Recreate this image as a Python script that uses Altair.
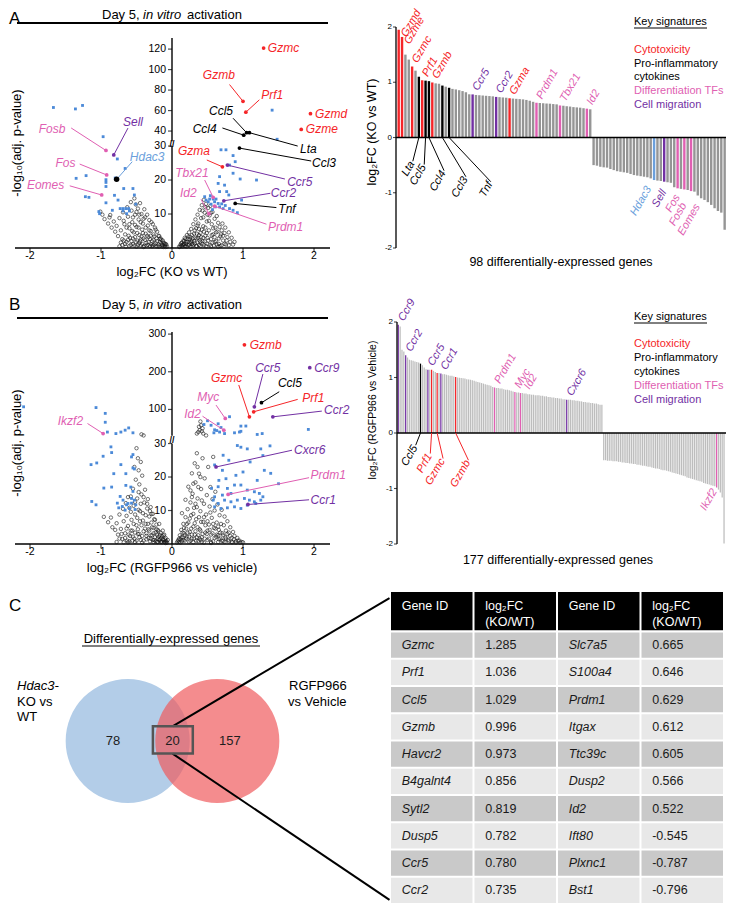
import altair as alt
import pandas as pd

FONT = "Liberation Sans"
W, H = 718, 896  # canvas; page pixel = canvas pixel + 8

# =============================== DATA =====================================
# ---- Panel A volcano: (log2FC KO vs WT, -log10 adj. p) ----
A_grey = [(-0.98,9.8),(-0.95,8.5),(-0.90,7.2),(-0.88,9.0),(-0.85,6.0),(-0.82,7.8),(-0.80,4.8),(-0.78,6.5),
 (-0.76,3.5),(-0.74,8.8),(-0.72,5.2),(-0.70,2.6),(-0.69,10.5),(-0.67,7.0),(-0.66,4.0),(-0.64,1.8),(-0.63,12.0),
 (-0.62,9.2),(-0.60,5.8),(-0.59,3.0),(-0.58,13.5),(-0.57,11.0),(-0.56,7.6),(-0.55,1.2),(-0.54,4.6),(-0.53,14.6),
 (-0.52,9.8),(-0.51,12.8),(-0.50,6.2),(-0.49,2.2),(-0.48,11.6),(-0.47,8.4),(-0.46,3.8),(-0.45,13.2),(-0.44,0.8),
 (-0.43,10.0),(-0.42,5.4),(-0.41,7.2),(-0.40,2.8),(-0.39,11.4),(-0.38,9.0),(-0.37,4.2),(-0.36,1.5),(-0.35,9.8),
 (-0.34,6.6),(-0.33,3.2),(-0.32,8.2),(-0.31,0.6),(-0.30,5.0),(-0.29,7.6),(-0.28,2.0),(-0.27,7.0),(-0.26,4.0),
 (-0.25,1.0),(-0.24,6.0),(-0.23,5.4),(-0.22,2.8),(-0.21,4.8),(-0.20,0.5),(-0.19,3.6),(-0.18,3.5),(-0.17,1.8),
 (-0.16,2.8),(-0.15,2.4),(-0.14,0.9),(-0.13,2.2),(-0.12,1.6),(-0.11,1.4),(-0.10,0.6),(-0.09,1.2),(-0.08,1.0),
 (-0.07,0.4),(-0.60,0.6),(-0.50,0.4),(-0.40,0.3),(-0.66,1.2),(-0.72,1.6),(-0.46,1.4),(-0.36,0.7),(-0.28,0.5),
 (-0.55,2.8),(-0.44,2.5),(-1.01,10.7),(-0.87,9.7),
 (-0.74,0.5),(-0.70,0.9),(-0.68,2.2),(-0.65,0.4),(-0.62,2.4),(-0.61,3.6),(-0.58,0.9),(-0.57,2.0),(-0.56,5.0),
 (-0.53,0.7),(-0.52,3.2),(-0.51,1.8),(-0.49,4.4),(-0.48,0.9),(-0.47,6.0),(-0.45,2.0),(-0.43,3.4),(-0.42,1.2),
 (-0.41,4.4),(-0.39,0.6),(-0.38,2.4),(-0.37,6.0),(-0.35,3.6),(-0.34,0.9),(-0.33,1.8),(-0.32,5.2),(-0.31,2.6),
 (-0.30,3.6),(-0.29,1.1),(-0.27,0.8),(-0.26,2.4),(-0.25,3.4),(-0.23,1.4),(-0.22,0.5),(-0.21,2.0),(-0.19,1.0),
 (-0.18,0.4),(-0.17,2.6),(-0.15,1.4),(-0.14,0.4),(-0.13,0.8),(-0.12,0.3),(-0.10,1.1),(-0.09,0.3),(-0.60,7.0),
 (-0.55,9.0),(-0.50,10.6),(-0.46,9.8),(-0.44,7.6),(-0.40,8.6),(-0.52,6.8),(-0.64,6.0),(-0.68,8.0),
 (0.10,0.4),(0.12,1.0),(0.13,0.6),(0.14,1.6),(0.15,0.9),(0.16,2.2),(0.17,1.2),(0.18,3.0),(0.19,0.5),(0.20,1.8),
 (0.21,3.8),(0.22,2.6),(0.23,0.8),(0.24,4.6),(0.25,1.6),(0.26,3.2),(0.27,5.6),(0.28,2.2),(0.29,0.6),(0.30,7.0),
 (0.31,4.2),(0.32,1.4),(0.33,8.4),(0.34,5.8),(0.35,2.8),(0.36,9.8),(0.37,7.2),(0.38,0.9),(0.39,11.2),(0.40,4.4),
 (0.41,8.8),(0.42,12.6),(0.43,2.0),(0.44,6.4),(0.45,14.2),(0.46,10.4),(0.47,3.6),(0.48,13.0),(0.49,7.8),
 (0.50,1.2),(0.51,11.8),(0.52,5.2),(0.53,9.6),(0.54,12.4),(0.55,2.6),(0.56,7.0),(0.57,10.6),(0.58,4.0),
 (0.59,0.7),(0.60,8.6),(0.61,6.0),(0.62,2.0),(0.63,9.4),(0.64,4.8),(0.65,7.4),(0.66,1.2),(0.67,6.2),(0.68,3.4),
 (0.70,5.2),(0.71,7.2),(0.72,2.2),(0.74,4.4),(0.75,6.0),(0.76,1.0),(0.78,3.2),(0.80,4.6),(0.82,1.8),(0.84,3.0),
 (0.86,1.0),(0.88,1.8),(0.35,0.5),(0.45,0.8),(0.55,0.5),(0.65,0.4),(0.40,1.8),(0.28,1.2),(0.50,3.0),(0.60,1.8),
 (0.70,0.8),(0.45,4.8),(0.38,3.8),
 (0.11,0.3),(0.13,1.4),(0.15,0.4),(0.16,1.0),(0.17,2.0),(0.18,0.6),(0.19,2.6),(0.20,1.2),(0.21,0.4),(0.22,1.8),
 (0.23,3.4),(0.24,1.0),(0.25,2.6),(0.26,0.4),(0.27,1.8),(0.28,3.8),(0.29,2.8),(0.30,1.0),(0.31,2.0),(0.32,5.2),
 (0.33,3.0),(0.34,0.6),(0.35,4.2),(0.36,1.6),(0.37,3.0),(0.38,5.6),(0.39,2.2),(0.40,0.6),(0.41,3.2),(0.42,5.4),
 (0.43,1.2),(0.44,3.0),(0.46,2.0),(0.47,6.0),(0.48,0.5),(0.49,4.4),(0.51,2.2),(0.52,8.0),(0.53,0.9),(0.56,3.8),
 (0.57,1.6),(0.58,5.8),(0.60,3.2),(0.62,4.6),(0.63,1.0),(0.66,2.8),(0.68,0.6),(0.69,4.0),(0.72,3.6),(0.74,1.2),
 (0.77,2.2),(0.80,0.8),(0.36,6.6),(0.44,9.0),(0.50,9.8),(0.55,10.4),(0.47,12.0),(0.43,11.0)]
A_sig = [(-1.67,63),(-1.36,61.6),(-1.26,65),(-0.97,34.5),(-0.77,26.2),(-0.66,23.4),(-1.35,20.5),(-1.21,21.3),
 (-0.93,19.3),(-0.81,15.5),(-1.22,15.1),(-1.17,14.9),(-0.93,13.3),(-1.03,10.7),(-1.02,10.1),(-0.84,11.1),
 (-0.73,11.6),(-0.69,11.6),(-0.65,11.6),(-0.61,11.6),(-0.55,17.5),(-0.53,15.6),(-0.51,12.9),(-0.69,10.9),
 (-0.64,10.1),(-0.60,10.9),(-0.68,17.5),(-0.76,14.1),(-0.80,20.6),(-0.93,20.1),(-0.93,18.1),
 (1.41,60.4),(1.48,32),(0.69,28.9),(0.76,28.9),(0.86,27.2),(0.89,25.4),(0.81,24.4),(1.19,20),(0.96,20.3),
 (0.67,21),(0.86,22),(0.65,19),(0.74,18.5),(0.77,16.6),(0.80,15.6),(0.67,16.6),(0.48,14.1),(0.51,13.6),
 (0.53,14.4),(0.58,14.4),(0.60,13.6),(0.62,14.4),(0.65,13.1),(0.55,12.9),(0.61,12.1),(0.67,12.1),(0.72,11.6),
 (0.81,11.6),(0.86,11.1),(0.92,10.4),(0.98,14.1),(0.46,15.1),(0.54,15.4),(0.70,13.0),(0.75,12.5),(0.57,11.3)]
# gene, signature, log2FC, p (of the gene)
A_genes = [("Gzmc","cyto",1.29,121.0),("Gzmb","cyto",1.00,69.0),("Prf1","cyto",1.04,58.4),
 ("Gzmd","cyto",1.95,57.0),("Gzme","cyto",1.82,41.6),("Ccl5","inflam",1.05,38.4),("Ccl4","inflam",1.01,36.0),
 ("Lta","inflam",1.09,38.4),("Ccl3","inflam",0.95,29.4),("Gzma","cyto",0.71,23.9),("Ccr5","migr",0.78,24.4),
 ("Tbx21","diff",0.58,14.9),("Ccr2","migr",0.73,13.9),("Id2","diff",0.52,10.1),("Tnf","inflam",0.89,13.1),
 ("Prdm1","diff",0.60,12.3),("Fosb","diff",-0.93,28.7),("Sell","migr",-0.82,27.4),("Hdac3","hdac",-0.78,20.2),
 ("Fos","diff",-0.92,21.5),("Eomes","diff",-0.99,15.6)]

# ---- Panel B volcano: (log2FC RGFP966 vs vehicle, -log10 adj. p) ----
B_grey = [(-0.96,8.1),(-0.90,6.5),(-0.86,7.9),(-0.84,5.0),(-0.80,4.2),(-0.78,6.2),(-0.76,2.8),(-0.74,8.8),
 (-0.72,4.5),(-0.70,1.5),(-0.69,10.5),(-0.68,6.8),(-0.66,3.2),(-0.65,12.2),(-0.64,8.4),(-0.63,1.0),(-0.62,5.4),
 (-0.60,10.8),(-0.59,2.4),(-0.58,14.2),(-0.57,7.2),(-0.56,4.0),(-0.55,16.5),(-0.54,11.4),(-0.53,1.6),(-0.52,8.8),
 (-0.51,19.2),(-0.50,28.6),(-0.50,5.6),(-0.49,13.6),(-0.48,3.0),(-0.47,22.0),(-0.47,10.2),(-0.46,17.8),
 (-0.45,6.8),(-0.44,24.5),(-0.44,1.2),(-0.43,14.8),(-0.42,20.4),(-0.41,9.2),(-0.40,3.8),(-0.39,12.4),
 (-0.38,16.2),(-0.37,6.0),(-0.36,1.4),(-0.35,10.6),(-0.34,13.4),(-0.33,4.4),(-0.32,8.2),(-0.31,0.8),(-0.30,11.0),
 (-0.29,6.4),(-0.28,2.6),(-0.27,9.0),(-0.26,4.8),(-0.25,1.2),(-0.24,7.2),(-0.23,3.4),(-0.22,5.8),(-0.21,0.6),
 (-0.20,4.2),(-0.19,2.2),(-0.18,6.0),(-0.17,1.4),(-0.16,3.4),(-0.15,0.7),(-0.14,2.4),(-0.13,4.0),(-0.12,1.2),
 (-0.11,2.8),(-0.10,0.5),(-0.09,1.8),(-0.08,0.9),(-0.07,0.4),(-0.06,1.2),(-0.62,0.5),(-0.52,0.6),(-0.42,0.4),
 (-0.36,2.4),(-0.46,2.0),(-0.56,1.0),(-0.30,1.6),(-0.26,0.6),(-0.20,1.6),(-0.48,25.6),(-0.53,23.0),(-0.43,34),
 (-0.40,31),
 (-0.78,0.6),(-0.74,1.6),(-0.71,3.0),(-0.68,0.5),(-0.66,1.8),(-0.64,4.6),(-0.61,2.8),(-0.60,0.8),(-0.58,4.0),
 (-0.55,2.2),(-0.54,6.0),(-0.52,3.4),(-0.50,1.0),(-0.49,7.8),(-0.48,4.4),(-0.46,3.0),(-0.45,9.8),(-0.43,5.6),
 (-0.42,2.4),(-0.41,7.0),(-0.40,1.0),(-0.38,4.6),(-0.37,8.6),(-0.36,3.2),(-0.34,6.0),(-0.33,1.8),(-0.32,4.0),
 (-0.30,2.6),(-0.29,9.0),(-0.28,5.0),(-0.27,1.2),(-0.26,3.2),(-0.25,7.4),(-0.24,2.0),(-0.23,0.8),(-0.22,4.4),
 (-0.21,2.8),(-0.20,0.6),(-0.19,3.8),(-0.18,1.2),(-0.17,2.6),(-0.16,0.6),(-0.15,1.8),(-0.14,0.5),(-0.13,1.4),
 (-0.12,2.6),(-0.11,0.6),(-0.10,1.4),(-0.09,0.3),(-0.08,0.6),(-0.44,12.0),(-0.40,14.0),(-0.47,15.5),
 (-0.52,12.6),(-0.58,9.6),(-0.35,12.0),(-0.31,9.8),(-0.62,14.0),
 (0.07,0.4),(0.09,1.2),(0.10,0.6),(0.11,2.6),(0.12,1.4),(0.13,4.2),(0.14,9.2),(0.14,0.8),(0.15,2.0),(0.16,6.0),
 (0.17,3.2),(0.18,1.0),(0.19,13.2),(0.19,8.0),(0.20,4.6),(0.21,2.2),(0.22,10.4),(0.23,17.1),(0.23,6.4),
 (0.24,0.7),(0.25,3.6),(0.26,12.4),(0.27,8.6),(0.28,21.1),(0.28,1.6),(0.29,15.0),(0.30,5.2),(0.31,10.8),
 (0.32,24.1),(0.32,2.8),(0.33,18.4),(0.34,7.4),(0.35,27.1),(0.35,36),(0.36,13.6),(0.37,0.9),(0.38,54),
 (0.38,21.0),(0.39,4.4),(0.40,68),(0.40,9.8),(0.41,16.4),(0.42,42),(0.42,2.0),(0.43,25.6),(0.44,36),(0.44,6.6),
 (0.45,12.0),(0.46,19.6),(0.47,3.4),(0.48,8.8),(0.49,14.6),(0.50,1.2),(0.51,23.0),(0.52,5.8),(0.53,11.2),
 (0.54,17.0),(0.55,2.8),(0.56,7.8),(0.57,13.4),(0.58,0.8),(0.59,4.8),(0.60,10.0),(0.61,15.6),(0.62,2.2),
 (0.63,6.4),(0.64,11.8),(0.65,0.6),(0.66,4.2),(0.67,8.6),(0.68,1.6),(0.69,6.0),(0.70,10.2),(0.71,3.2),
 (0.72,0.9),(0.73,5.6),(0.74,8.2),(0.75,2.0),(0.76,4.0),(0.78,6.8),(0.79,1.2),(0.80,3.4),(0.82,5.0),(0.84,1.8),
 (0.86,3.6),(0.88,2.4),(0.90,0.8),(0.92,1.8),(0.95,1.0),(0.98,0.6),(0.30,0.5),(0.45,0.4),(0.55,0.3),(0.35,2.0),
 (0.65,2.6),(0.85,0.5),(0.40,1.2),(0.50,4.0),(0.58,26.0),(0.48,31.0),(0.39,45),(0.41,58),(0.37,40),(0.43,50),
 (0.08,0.8),(0.10,1.6),(0.12,0.4),(0.13,2.0),(0.15,3.4),(0.16,1.2),(0.17,4.8),(0.18,2.6),(0.20,1.6),(0.21,6.0),
 (0.22,3.4),(0.24,2.2),(0.25,7.6),(0.26,1.0),(0.27,4.6),(0.28,2.8),(0.30,9.0),(0.31,1.6),(0.32,6.2),(0.33,3.8),
 (0.34,1.0),(0.35,11.0),(0.36,5.0),(0.37,2.6),(0.38,8.0),(0.39,1.6),(0.40,4.0),(0.41,6.6),(0.42,0.6),(0.43,3.0),
 (0.45,8.0),(0.46,1.6),(0.47,5.6),(0.49,3.0),(0.50,6.8),(0.52,1.6),(0.53,4.2),(0.54,9.4),(0.55,0.6),(0.57,3.2),
 (0.58,6.0),(0.60,1.8),(0.61,4.6),(0.63,2.8),(0.65,5.2),(0.66,1.4),(0.68,3.4),(0.70,1.0),(0.72,2.6),(0.74,0.6),
 (0.76,1.6),(0.78,3.0),(0.80,0.8),(0.82,2.4),(0.84,0.6),(0.87,1.4),(0.90,0.4),(0.93,1.0),(0.96,0.4),(1.00,0.5),
 (0.28,14.0),(0.33,12.0),(0.37,17.0),(0.42,13.0),(0.40,20.0),(0.30,18.0),(0.36,23.0),(0.26,16.0)]
B_sig = [(-2.09,107),(-1.07,105),(-0.94,89.6),(-0.94,66),(-0.91,40),(-0.72,40),(-0.61,51),(-0.55,38),
 (-0.79,36),(-0.66,45),
 (0.50,70),(0.55,58),(0.65,62),(0.69,52),(0.59,38),(0.67,40),(0.63,44),(0.81,80.7),(0.88,38),(0.95,40),
 (0.97,42),(0.97,55.8),(1.04,56),(1.20,33.6),(1.27,36),(1.92,47),(0.74,36),(0.45,60),(0.60,46),
 (-0.86,29),(-0.85,27.3),(-0.97,26.2),(-1.14,23.7),(-1.06,24.2),(-0.55,26.7),(-0.57,26.0),(-0.72,23.7),
 (-0.55,22.7),(-0.53,22.4),(-0.65,21),(-0.82,21),(-0.96,16.7),(-0.85,17.0),(-0.65,17.5),(-0.58,17.0),
 (-0.55,15.7),(-0.73,14.2),(-0.69,13.1),(-0.62,12.1),(-0.57,13.6),(-0.53,13.1),(-0.77,12.2),(-0.70,11.2),
 (-0.64,11.7),(-0.57,12.2),(-0.51,11.7),(-1.13,12.7),(-1.07,11.7),(-0.60,10.6),(-0.66,10.1),(-0.52,10.3),
 (-0.75,10.8),
 (0.60,23.6),(0.71,22.0),(0.92,29.4),(0.97,28.9),(1.06,28.4),(1.25,28.4),(1.28,26.4),(1.38,29.3),(1.39,21.1),
 (0.557,16.6),(0.60,14.1),(0.65,17.1),(0.78,16.6),(0.88,17.6),(0.97,17.6),(1.06,16.1),(1.16,15.6),(1.23,15.1),
 (1.28,14.1),(0.65,12.1),(0.74,13.1),(0.83,12.6),(0.92,13.1),(1.02,13.6),(1.09,13.1),(1.16,12.6),(0.60,11.1),
 (0.69,10.6),(0.78,10.8),(0.88,11.1),(0.97,10.6),(1.06,11.6),(1.18,12.1),(1.25,13.1),(0.83,15.1),(0.71,14.6),
 (0.58,13.1),(0.72,26.5),(0.80,25.0),(1.10,24.5),(1.30,22.0),(0.90,20.5),(1.00,21.5),(0.76,19.5),(0.66,19.0),
 (1.50,18.0),(1.20,19.0)]
B_genes = [("Gzmb","cyto",1.02,271.6),("Ccr9","migr",1.94,211.0),("Ccr5","migr",1.16,107.0),
 ("Gzmc","cyto",1.09,80.4),("Ccl5","inflam",1.26,117.8),("Prf1","cyto",1.15,93.8),("Ccr2","migr",1.42,80.4),
 ("Myc","diff",0.75,76.0),("Id2","diff",0.73,44.9),("Ikzf2","diff",-0.97,36.0),("Cxcr6","migr",0.62,23.0),
 ("Prdm1","diff",0.79,14.8),("Ccr1","migr",1.07,11.8)]

VOLC_X_TICKS = [-2, -1, 0, 1, 2]
A_Y_TICKS = [10, 20, 30, 40, 60, 80, 100, 120]
B_Y_TICKS = [10, 20, 30, 100, 200, 300]
BAR_Y_TICKS = [-2, -1, 0, 1, 2]

# ---- Panel A bars: 98 DE genes, log2FC (KO vs WT), sorted ----
A_pos = [1.95,1.82,1.50,1.41,1.285,1.21,1.10,1.036,1.029,1.02,0.996,0.98,0.973,0.94,0.92,0.90,0.88,0.87,
 0.856,0.84,0.819,0.782,0.780,0.77,0.765,0.76,0.755,0.75,0.745,0.735,0.73,0.725,0.72,0.71,0.705,0.70,0.695,
 0.69,0.68,0.665,0.646,0.629,0.625,0.62,0.615,0.612,0.605,0.60,0.58,0.575,0.566,0.56,0.55,0.545,0.54,0.53,
 0.522,0.51]
A_neg = [-0.50,-0.51,-0.53,-0.54,-0.545,-0.57,-0.59,-0.61,-0.62,-0.63,-0.64,-0.66,-0.68,-0.69,-0.70,-0.71,
 -0.72,-0.74,-0.77,-0.78,-0.787,-0.80,-0.81,-0.82,-0.90,-0.92,-0.93,-0.94,-0.95,-0.97,-0.98,-1.05,-1.10,
 -1.13,-1.17,-1.22,-1.28,-1.33,-1.36,-1.67]
A_marked = {1:("Gzmd","cyto"),2:("Gzme","cyto"),5:("Gzmc","cyto"),7:("Lta","inflam"),8:("Prf1","cyto"),
 9:("Ccl5","inflam"),10:("Ccl4","inflam"),11:("Gzmb","cyto"),14:("Ccl3","inflam"),16:("Tnf","inflam"),
 23:("Ccr5","migr"),30:("Ccr2","migr"),34:("Gzma","cyto"),42:("Prdm1","diff"),49:("Tbx21","diff"),
 57:("Id2","diff"),77:("Hdac3","hdac"),80:("Sell","migr"),84:("Fos","diff"),86:("Fosb","diff"),
 88:("Eomes","diff")}

# ---- Panel B bars: 177 DE genes, log2FC (RGFP966 vs vehicle), sorted ----
B_pos = [1.95,1.92,1.50,1.47,1.40,1.36,1.32,1.31,1.30,1.29,1.28,1.27,1.25,1.22,1.18,1.15,1.14,1.14,1.14,1.12,
 1.10,1.08,1.08,1.07,1.06,1.06,1.05,1.04,1.03,1.03,1.02,1.01,
 1.00,0.995,0.99,0.985,0.98,0.97,0.965,0.96,0.95,0.94,0.93,0.92,0.91,0.90,0.89,0.88,0.87,0.86,0.85,0.83,
 0.82,0.81,0.81,0.80,0.80,0.79,0.78,0.78,0.77,0.76,0.75,0.74,0.73,0.73,0.72,
 0.72,0.71,0.71,0.70,0.70,0.69,0.69,0.68,0.68,0.68,0.67,0.67,0.66,0.66,0.65,0.65,0.64,0.64,0.63,0.63,0.62,
 0.62,0.61,0.61,0.60,
 0.60,0.60,0.59,0.59,0.58,0.58,0.57,0.57,0.56,0.56,0.55,0.55,0.54,0.54,0.53,0.53,0.52,0.51,0.51]
B_neg = [-0.49,-0.49,-0.50,-0.50,-0.50,-0.51,-0.51,-0.51,-0.52,-0.52,
 -0.53,-0.53,-0.54,-0.54,-0.55,-0.55,-0.56,-0.56,-0.57,
 -0.57,-0.58,-0.59,-0.59,-0.60,-0.61,-0.61,-0.62,-0.63,
 -0.64,-0.64,-0.65,-0.66,-0.67,-0.67,-0.68,-0.69,-0.70,
 -0.71,-0.72,-0.73,-0.74,-0.75,-0.76,-0.77,-0.78,-0.80,
 -0.81,-0.82,-0.83,-0.84,-0.85,-0.86,-0.87,-0.88,-0.90,
 -0.91,-0.92,-0.93,-0.94,-0.95,-0.96,-0.98,-1.02,-1.07,-1.16,-1.99]
B_marked = {1:("Ccr9","migr"),5:("Ccr2","migr"),13:("Ccl5","inflam"),17:("Ccr5","migr"),19:("Prf1","cyto"),
 22:("Gzmc","cyto"),24:("Ccr1","migr"),32:("Gzmb","cyto"),53:("Prdm1","diff"),64:("Myc","diff"),
 67:("Id2","diff"),92:("Cxcr6","migr"),173:("Ikzf2","diff")}

# ---- Panel C ----
VENN_COUNTS = ["78", "20", "157"]
T_HEAD = ["Gene ID", "log\u2082FC\n(KO/WT)", "Gene ID", "log\u2082FC\n(KO/WT)"]
T_GENE_L = ["Gzmc","Prf1","Ccl5","Gzmb","Havcr2","B4galnt4","Sytl2","Dusp5","Ccr5","Ccr2"]
T_FC_L = ["1.285","1.036","1.029","0.996","0.973","0.856","0.819","0.782","0.780","0.735"]
T_GENE_R = ["Slc7a5","S100a4","Prdm1","Itgax","Ttc39c","Dusp2","Id2","Ift80","Plxnc1","Bst1"]
T_FC_R = ["0.665","0.646","0.629","0.612","0.605","0.566","0.522","-0.545","-0.787","-0.796"]

# ======================= ANNOTATION LAYOUT (label anchors) ================
A_LAB = {"Gzmc":(None,None,1.57,121),"Gzmb":(0.81,85.4,0.66,95),"Prf1":(1.23,70.5,1.41,75.5),
 "Gzmd":(None,None,2.24,57),"Gzme":(None,None,2.11,41.6),"Ccl5":(0.86,52.5,0.69,59.8),
 "Ccl4":(0.71,43.0,0.46,41.9),"Lta":(1.77,30.0,1.92,29.0),"Ccl3":(1.96,25.6,2.14,24.9),
 "Gzma":(0.49,25.9,0.31,28.4),"Ccr5":(1.59,20.3,1.80,19.5),"Tbx21":(0.46,20.0,0.28,22.0),
 "Ccr2":(1.385,16.1,1.57,16.3),"Id2":(0.41,14.3,0.23,16.1),"Tnf":(1.47,11.9,1.62,11.6),
 "Prdm1":(1.33,7.0,1.60,6.2),"Fosb":(-1.42,43.0,-1.69,41.9),"Sell":(-0.62,42.9,-0.55,49.2),
 "Hdac3":(-0.56,25.4,-0.35,26.7),"Fos":(-1.30,24.7,-1.50,24.9),"Eomes":(-1.44,18.3,-1.78,18.5)}
B_LAB = {"Gzmb":(None,None,1.32,271.6),"Ccr9":(None,None,2.18,211),"Ccr5":(1.28,194,1.35,211),
 "Gzmc":(0.94,165,0.77,184),"Ccl5":(1.51,147,1.66,169),"Prf1":(1.77,126.7,1.99,131),
 "Ccr2":(2.11,95.6,2.32,98),"Myc":(0.62,111.6,0.51,133.8),"Id2":(0.43,82,0.29,87.6),
 "Ikzf2":(-1.19,62.7,-1.43,68.9),"Cxcr6":(1.69,28,1.94,28),"Prdm1":(1.93,19.8,2.20,20.5),
 "Ccr1":(1.93,13.2,2.13,13.2)}
A_LEADER = {"Lta":(5.2,-0.43),"Ccl5":(8.6,-0.49),"Ccl4":(14.5,-0.60),"Ccl3":(21.0,-0.71),"Tnf":(28.4,-0.80)}
A_BELOW = {"Hdac3":(75.5,-0.90),"Sell":(80.0,-0.96),"Fos":(84.0,-1.05),"Fosb":(86.0,-1.20),"Eomes":(90.0,-1.22)}
B_LEADER = {"Ccl5":(10.4,-0.22),"Prf1":(18.3,-0.37),"Gzmc":(25.2,-0.46),"Gzmb":(38.9,-0.49)}
B_BELOW = {"Ikzf2":(172.0,-1.02)}
B_ABOVE_SHIFT = {"Id2": 2.0}

# ================================ STYLE ===================================
PAL = {"cyto": "#f52528", "inflam": "#000000", "diff": "#e05fb2", "migr": "#7230a3",
       "hdac": "#6b9fdc", "barA": "#959595", "barB": "#bdbdbd",
       "head": "#000000", "dark": "#c9c9c9", "light": "#e8e8e8"}
CS = alt.Scale(domain=list(PAL), range=list(PAL.values()))
COL = alt.Color("cat:N", scale=CS, legend=None)
SIG = "#4c8ad8"


def P(v):
    return v - 8


def note(text, x, y, size=12, color="#000000", align="left", baseline="middle", angle=0,
         italic=False):
    return alt.Chart(pd.DataFrame({"t": [text]})).mark_text(
        align=align, baseline=baseline, angle=angle, fontSize=size, font=FONT,
        fontStyle="italic" if italic else "normal", color=color
    ).encode(x=alt.value(P(x)), y=alt.value(P(y)), text="t:N")


def hrule(x1, x2, y, w=1.0):
    return alt.Chart(pd.DataFrame({"t": [0]})).mark_rule(color="#000000", strokeWidth=w).encode(
        x=alt.value(P(x1)), x2=alt.value(P(x2)), y=alt.value(P(y)))


def volcano(grey, sig, genes, lab, base, k, ydom, ypix, yticks):
    def d(f):
        return f"datum.{f} <= 30 ? datum.{f} : {base} + (datum.{f} - 30) * {k}"
    xs = alt.Scale(domain=[-2.211, 2.225], range=[P(15), P(330)], nice=False, zero=False)
    ys = alt.Scale(domain=ydom, range=[P(ypix[0]), P(ypix[1])], nice=False, zero=False)

    def X(f):
        return alt.X(f, type="quantitative", scale=xs, axis=None)

    def Y(f):
        return alt.Y(f, type="quantitative", scale=ys, axis=None)

    xline = alt.Chart(pd.DataFrame({"a": [-2.211], "b": [2.225], "z": [0.0]})).mark_rule(
        color="#000000", strokeWidth=1.4).encode(x=X("a"), x2="b:Q", y=Y("z"))
    xt = pd.DataFrame({"v": VOLC_X_TICKS, "lab": [str(t) for t in VOLC_X_TICKS], "z": 0.0})
    xtick = alt.Chart(xt).mark_tick(orient="vertical", size=4, thickness=1.2, yOffset=2,
                                    color="#000000").encode(x=X("v"), y=Y("z"))
    xlab = alt.Chart(xt).mark_text(baseline="top", dy=3, font=FONT, fontSize=10.5, color="#000000").encode(
        x=X("v"), y=Y("z"), text="lab:N")
    yline = alt.Chart(pd.DataFrame({"z": [0.0, 0.0], "a": [0.0, base], "b": [30.0, ydom[1]]})).mark_rule(
        color="#000000", strokeWidth=1.4).encode(x=X("z"), y=Y("a"), y2="b:Q")
    yt = alt.Chart(pd.DataFrame({"p": yticks, "lab": [str(t) for t in yticks], "z": 0.0})).transform_calculate(
        d=d("p"))
    ytick = yt.mark_tick(orient="horizontal", size=4, thickness=1.2, xOffset=-2, color="#000000").encode(
        x=X("z"), y=Y("d"))
    ylab = yt.mark_text(align="right", baseline="middle", dx=-6, font=FONT, fontSize=10.5,
                        color="#000000").encode(x=X("z"), y=Y("d"), text="lab:N")
    brk = alt.Chart(pd.DataFrame({"z": [0.0], "m": [(30 + base) / 2]})).mark_text(
        text="//", fontSize=9, font=FONT, fontWeight="bold").encode(x=X("z"), y=Y("m"))

    g = (alt.Chart(pd.DataFrame(grey, columns=["fc", "p"])).transform_calculate(d=d("p"))
         .mark_point(shape="circle", filled=False, size=12, color="#151515", strokeWidth=0.6, opacity=1)
         .encode(x=X("fc"), y=Y("d")))
    s = (alt.Chart(pd.DataFrame(sig, columns=["fc", "p"])).transform_calculate(d=d("p"))
         .mark_square(size=8, color=SIG, opacity=1).encode(x=X("fc"), y=Y("d")))
    rows = []
    for gname, cat, fc, p in genes:
        lfc, lp, tfc, tp = lab[gname]
        rows.append({"gene": gname, "cat": cat, "fc": fc, "p": p, "lfc": lfc, "lp": lp, "tfc": tfc, "tp": tp})
    kb = alt.Chart(pd.DataFrame(rows)).transform_calculate(d=d("p"), ld=d("lp"), td=d("tp"))
    lines = kb.transform_filter("isValid(datum.lfc)").mark_rule(strokeWidth=1).encode(
        x=X("fc"), y=Y("d"), x2="lfc:Q", y2="ld:Q", color=COL)
    dots = kb.transform_filter("datum.gene != 'Hdac3'").mark_circle(size=14, opacity=1).encode(
        x=X("fc"), y=Y("d"), color=COL)
    hd = kb.transform_filter("datum.gene == 'Hdac3'").mark_circle(size=30, opacity=1, color="#000000").encode(
        x=X("fc"), y=Y("d"))
    labs = kb.mark_text(font=FONT, fontSize=12, fontStyle="italic").encode(
        x=X("tfc"), y=Y("td"), text="gene:N", color=COL)
    return alt.layer(xline, xtick, xlab, yline, ytick, ylab, brk, g, s, lines, dots, hd, labs)


def barpanel(vals, marked, leader, below, xpix, ypix, xdom, bw, grey, top_thresh, shift):
    xs = alt.Scale(domain=xdom, range=[P(xpix[0]), P(xpix[1])], nice=False, zero=False)
    ys = alt.Scale(domain=[-2, 2], range=[P(ypix[0]), P(ypix[1])], nice=False, zero=False)

    def X(f):
        return alt.X(f, type="quantitative", scale=xs, axis=None)

    def Y(f):
        return alt.Y(f, type="quantitative", scale=ys, axis=None)

    n = len(vals)
    df = pd.DataFrame({"idx": list(range(1, n + 1)), "v": vals})
    df["gene"] = [marked.get(i, ("", grey))[0] for i in df["idx"]]
    df["cat"] = [marked.get(i, ("", grey))[1] for i in df["idx"]]
    bars = alt.Chart(df).mark_rule(strokeWidth=bw).encode(x=X("idx"), y=Y("v"), y2=alt.datum(0), color=COL)
    zero = alt.Chart(pd.DataFrame({"a": [xdom[0]], "b": [xdom[1]], "z": [0]})).mark_rule(
        color="#000000", strokeWidth=1.3).encode(x=X("a"), x2="b:Q", y=Y("z"))
    yline = alt.Chart(pd.DataFrame({"a": [xdom[0]], "lo": [-2], "hi": [2]})).mark_rule(
        color="#000000", strokeWidth=1.3).encode(x=X("a"), y=Y("lo"), y2="hi:Q")
    yt = alt.Chart(pd.DataFrame({"a": xdom[0], "v": BAR_Y_TICKS, "lab": [str(t) for t in BAR_Y_TICKS]}))
    ytick = yt.mark_tick(orient="horizontal", size=3, thickness=1.1, xOffset=-1.5, color="#000000").encode(
        x=X("a"), y=Y("v"))
    ylab = yt.mark_text(align="right", baseline="middle", dx=-4, font=FONT, fontSize=8,
                        color="#000000").encode(x=X("a"), y=Y("v"), text="lab:N")
    adf = df[(df.gene != "") & (~df.gene.isin(list(leader))) & (~df.gene.isin(list(below)))].copy()
    adf["sx"] = [shift.get(g, 0.0) for g in adf["gene"]]
    above_low = alt.Chart(adf).transform_filter(f"datum.v <= {top_thresh}").transform_calculate(
        tx="datum.idx + datum.sx", ty="datum.v + 0.03").mark_text(
        angle=300, align="left", baseline="bottom", dx=4, dy=6, font=FONT, fontSize=11,
        fontStyle="italic").encode(x=X("tx"), y=Y("ty"), text="gene:N", color=COL)
    above_high = alt.Chart(adf).transform_filter(f"datum.v > {top_thresh}").transform_calculate(
        tx="datum.idx + datum.sx", ty="datum.v - 0.06").mark_text(
        angle=300, align="left", baseline="top", font=FONT, fontSize=11, fontStyle="italic").encode(
        x=X("tx"), y=Y("ty"), text="gene:N", color=COL)
    lrows = [{"gene": g, "idx": i, "cat": c, "ax": leader[g][0], "ay": leader[g][1], "z": 0}
             for i, (g, c) in marked.items() if g in leader]
    brows = [{"gene": g, "idx": i, "cat": c, "ax": below[g][0], "ay": below[g][1]}
             for i, (g, c) in marked.items() if g in below]
    layers = [bars, zero, yline, ytick, ylab, above_low, above_high]
    if lrows:
        ldf = pd.DataFrame(lrows)
        layers.append(alt.Chart(ldf).mark_rule(strokeWidth=1).encode(
            x=X("idx"), y=Y("z"), x2="ax:Q", y2="ay:Q", color=COL))
        layers.append(alt.Chart(ldf).mark_text(angle=300, align="right", baseline="middle", dx=-1,
                                               font=FONT, fontSize=11, fontStyle="italic").encode(
            x=X("ax"), y=Y("ay"), text="gene:N", color=COL))
    if brows:
        layers.append(alt.Chart(pd.DataFrame(brows)).mark_text(
            angle=300, align="right", baseline="middle", font=FONT, fontSize=11, fontStyle="italic").encode(
            x=X("ax"), y=Y("ay"), text="gene:N", color=COL))
    return alt.layer(*layers)


def venn():
    xs = alt.Scale(domain=[-3, 3], range=[P(172.5 - 210), P(172.5 + 210)], nice=False, zero=False)
    ys = alt.Scale(domain=[-3, 3], range=[P(741 - 210), P(741 + 210)], nice=False, zero=False)

    def X(f):
        return alt.X(f, type="quantitative", scale=xs, axis=None)

    def Y(f):
        return alt.Y(f, type="quantitative", scale=ys, axis=None)

    cdf = pd.DataFrame({"cx": [-0.64, 0.64], "cy": [0.0, 0.0], "set": ["ko", "rgfp"]})
    blue = alt.Chart(cdf).transform_filter("datum.set == 'ko'").mark_circle(
        size=15394, color="#b3cde8", opacity=1).encode(x=X("cx"), y=Y("cy"))
    red = alt.Chart(cdf).transform_filter("datum.set == 'rgfp'").mark_circle(
        size=15394, color="#ef5b5e", opacity=0.7).encode(x=X("cx"), y=Y("cy"))
    nd = pd.DataFrame({"x": [-0.85, 0.0, 0.82], "y": [0.0, 0.0, 0.0], "n": VENN_COUNTS})
    nums = alt.Chart(nd).mark_text(font=FONT, fontSize=13, color="#1e1e1e").encode(
        x=X("x"), y=Y("y"), text="n:N")
    box = alt.Chart(pd.DataFrame({"x1": [-0.28], "x2": [0.29], "y1": [-0.21], "y2": [0.18]})).mark_rect(
        fillOpacity=0, stroke="#555555", strokeWidth=2.5).encode(x=X("x1"), x2="x2:Q", y=Y("y1"), y2="y2:Q")
    links = alt.Chart(pd.DataFrame({"x1": [0.0, 0.0], "y1": [-0.21, 0.18], "x2": [3.1, 3.1],
                                    "y2": [-2.04, 2.27]})).mark_rule(color="#000000", strokeWidth=2).encode(
        x=X("x1"), y=Y("y1"), x2="x2:Q", y2="y2:Q")
    return alt.layer(blue, red, links, box, nums)


def table():
    xs = alt.Scale(domain=[0, 4], range=[P(390), P(724)], nice=False, zero=False)
    ys = alt.Scale(domain=[0, 11.45], range=[P(592), P(904)], nice=False, zero=False)

    def X(f):
        return alt.X(f, type="quantitative", scale=xs, axis=None)

    def Y(f):
        return alt.Y(f, type="quantitative", scale=ys, axis=None)

    cells = [{"col": c, "row": 0, "txt": h} for c, h in enumerate(T_HEAD)]
    for r in range(len(T_GENE_L)):
        for c, arr in enumerate([T_GENE_L, T_FC_L, T_GENE_R, T_FC_R]):
            cells.append({"col": c, "row": r + 1, "txt": arr[r]})
    base = alt.Chart(pd.DataFrame(cells)).transform_calculate(
        x1="datum.col + 0.012", x2="datum.col + 0.988",
        y1="datum.row == 0 ? 0 : 1.45 + datum.row - 1 + 0.035",
        y2="datum.row == 0 ? 1.4 : 1.45 + datum.row - 0.035",
        tx="datum.col + 0.14",
        ty="datum.row == 0 ? 0.3 : 1.45 + datum.row - 0.5",
        cat="datum.row == 0 ? 'head' : (datum.row % 2 == 1 ? 'dark' : 'light')")
    rects = base.mark_rect().encode(x=X("x1"), x2="x2:Q", y=Y("y1"), y2="y2:Q", color=COL)
    head = base.transform_filter("datum.row == 0").mark_text(
        align="left", baseline="top", font=FONT, fontSize=12.5, color="white", lineBreak="\n",
        lineHeight=16).encode(x=X("tx"), y=Y("ty"), text="txt:N")
    genes = base.transform_filter("datum.row > 0 && datum.col % 2 == 0").mark_text(
        align="left", baseline="middle", font=FONT, fontSize=12.5, fontStyle="italic",
        color="#1a1a1a").encode(x=X("tx"), y=Y("ty"), text="txt:N")
    nums = base.transform_filter("datum.row > 0 && datum.col % 2 == 1").mark_text(
        align="left", baseline="middle", font=FONT, fontSize=12.5, color="#1a1a1a").encode(
        x=X("tx"), y=Y("ty"), text="txt:N")
    return alt.layer(rects, head, genes, nums)


def legend(x, y0, ys):
    out = [note("Key signatures", x, y0, 11), hrule(x, x + 73, y0 + 6, 1)]
    items = [("Cytotoxicity", PAL["cyto"]), ("Pro-inflammatory", "#000000"), ("cytokines", "#000000"),
             ("Differentiation TFs", PAL["diff"]), ("Cell migration", PAL["migr"])]
    for (t, c), yy in zip(items, ys):
        out.append(note(t, x, yy, 11, color=c))
    return out


def title_line(base_y, line_y):
    return [note("Day 5,", 102, base_y, 13, baseline="alphabetic"),
            note("in vitro", 143, base_y, 13, baseline="alphabetic", italic=True),
            note("activation", 187, base_y, 13, baseline="alphabetic"),
            hrule(17, 328, line_y, 2)]


layers = [
    volcano(A_grey, A_sig, A_genes, A_LAB, 31.4, 0.3015, [0, 61.8], (248, 38), A_Y_TICKS),
    volcano(B_grey, B_sig, B_genes, B_LAB, 32.3, 0.1125, [0, 63.3], (544, 332), B_Y_TICKS),
    barpanel(A_pos + A_neg, A_marked, A_LEADER, A_BELOW, (396, 726), (248, 27), [0.2, 98.4], 2.4, "barA",
             1.7, {}),
    barpanel(B_pos + B_neg, B_marked, B_LEADER, B_BELOW, (397, 726), (544, 322), [0.31, 178.06], 1.25, "barB",
             9.0, B_ABOVE_SHIFT),
    venn(),
    table(),
]
notes = []
notes += [note("A", 9, 11, 17, baseline="top"), note("B", 9, 297, 17, baseline="top"),
          note("C", 9, 598, 17, baseline="top")]
notes += title_line(19, 23) + title_line(309, 318)
notes += [note("log\u2082FC (KO vs WT)", 172, 272, 13, align="center"),
          note("log\u2082FC (RGFP966 vs vehicle)", 172, 568, 13, align="center"),
          note("-log\u2081\u2080(adj. p-value)", 17, 143, 13, align="center", angle=270),
          note("-log\u2081\u2080(adj. p-value)", 17, 443, 13, align="center", angle=270),
          note("log\u2082FC (KO vs WT)", 372, 132, 12.5, align="center", angle=270),
          note("log\u2082FC (RGFP966 vs Vehicle)", 373, 410, 10.5, align="center", angle=270),
          note("98 differentially-expressed genes", 561, 262, 12.5, align="center"),
          note("177 differentially-expressed genes", 558, 560, 12.5, align="center")]
notes += legend(634, 22, [50, 63.5, 77, 91, 105]) + legend(634, 317, [344, 358, 372, 386, 400])
notes += [note("Differentially-expressed genes", 171, 639, 13, align="center"), hrule(82, 260, 646, 1),
          note("Hdac3-", 17, 686, 13, italic=True), note("KO vs", 17, 701.5, 13), note("WT", 17, 717, 13),
          note("RGFP966", 289, 686, 13), note("vs Vehicle", 288, 702, 13)]

chart = alt.layer(*(layers + notes)).resolve_scale(
    x="independent", y="independent"
).properties(
    width=W, height=H, autosize=alt.AutoSizeParams(type="none"), padding=0
).configure_view(stroke=None)

chart.save("out.html", embed_options={"renderer": "svg", "actions": False})
